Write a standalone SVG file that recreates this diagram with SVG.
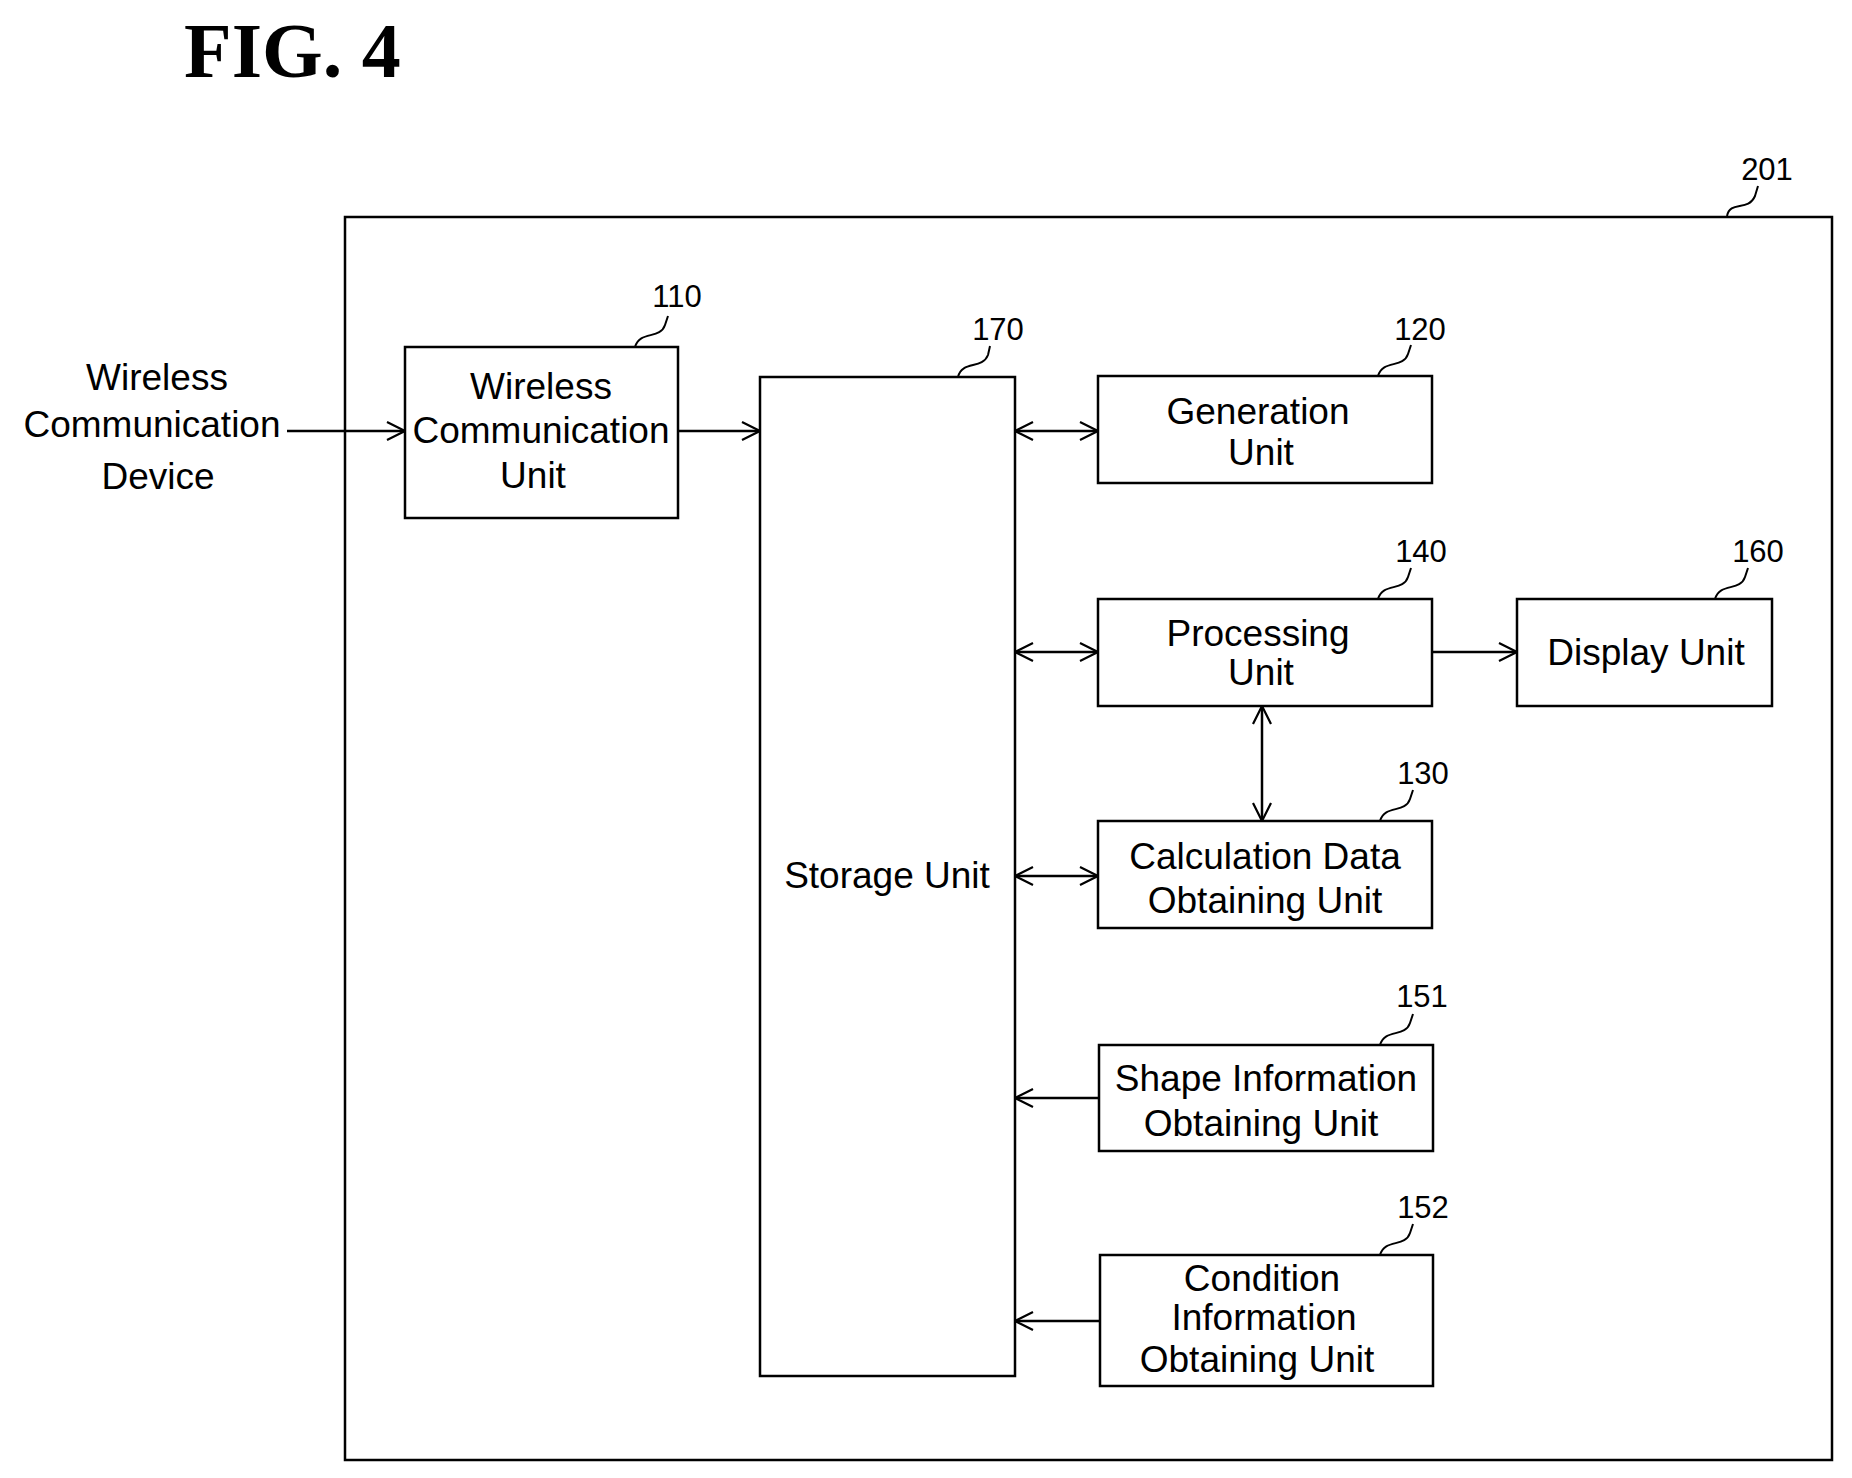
<svg xmlns="http://www.w3.org/2000/svg" width="1852" height="1478" viewBox="0 0 1852 1478">
<style>
.b{fill:#fff;stroke:#000;stroke-width:2.5}
.t{font-family:"Liberation Sans",Arial,sans-serif;font-size:37px;text-anchor:middle;fill:#000}
.n{font-family:"Liberation Sans",Arial,sans-serif;font-size:31px;text-anchor:middle;fill:#000}
.c{fill:none;stroke:#000;stroke-width:2.5}
.l{fill:none;stroke:#000;stroke-width:2}
</style>
<defs>
<marker id="a" viewBox="0 0 20 20" refX="19" refY="10" markerWidth="20" markerHeight="20" markerUnits="userSpaceOnUse" orient="auto-start-reverse">
<path d="M1,1 L19,10 L1,19" fill="none" stroke="#000" stroke-width="2.2"/>
</marker>
</defs>
<rect width="1852" height="1478" fill="#fff"/>
<text x="184" y="77" font-family="Liberation Serif,serif" font-weight="bold" font-size="78">FIG. 4</text>
<g id="n201">
<rect class="b" x="345" y="217" width="1487" height="1243" fill="none"/>
<path class="l" d="M1727,216 C1730,200 1748,212 1755,196 L1758,186"/>
<text class="n" x="1767" y="180">201</text>
</g>
<g id="device">
<text class="t" x="157" y="390">Wireless</text>
<text class="t" x="152" y="437">Communication</text>
<text class="t" x="158" y="489">Device</text>
</g>
<g id="n110">
<rect class="b" x="405" y="347" width="273" height="171"/>
<path class="l" d="M635,347 C640,330 660,340 665,325 L668,316"/>
<text class="n" x="677" y="307">110</text>
<text class="t" x="541" y="399">Wireless</text>
<text class="t" x="541" y="443">Communication</text>
<text class="t" x="533" y="488">Unit</text>
</g>
<g id="n170">
<rect class="b" x="760" y="377" width="255" height="999"/>
<path class="l" d="M958,377 C962,360 982,370 988,355 L990,346"/>
<text class="n" x="998" y="340">170</text>
<text class="t" x="887" y="888">Storage Unit</text>
</g>
<g id="n120">
<rect class="b" x="1098" y="376" width="334" height="107"/>
<path class="l" d="M1378,376 C1383,359 1403,369 1408,354 L1411,345"/>
<text class="n" x="1420" y="340">120</text>
<text class="t" x="1258" y="424">Generation</text>
<text class="t" x="1261" y="465">Unit</text>
</g>
<g id="n140">
<rect class="b" x="1098" y="599" width="334" height="107"/>
<path class="l" d="M1378,599 C1383,582 1403,592 1408,577 L1411,568"/>
<text class="n" x="1421" y="562">140</text>
<text class="t" x="1258" y="646">Processing</text>
<text class="t" x="1261" y="685">Unit</text>
</g>
<g id="n160">
<rect class="b" x="1517" y="599" width="255" height="107"/>
<path class="l" d="M1715,599 C1720,582 1740,592 1745,577 L1748,568"/>
<text class="n" x="1758" y="562">160</text>
<text class="t" x="1646" y="665">Display Unit</text>
</g>
<g id="n130">
<rect class="b" x="1098" y="821" width="334" height="107"/>
<path class="l" d="M1380,821 C1385,804 1405,814 1410,799 L1413,790"/>
<text class="n" x="1423" y="784">130</text>
<text class="t" x="1265" y="869">Calculation Data</text>
<text class="t" x="1265" y="913">Obtaining Unit</text>
</g>
<g id="n151">
<rect class="b" x="1099" y="1045" width="334" height="106"/>
<path class="l" d="M1380,1045 C1385,1028 1405,1038 1410,1023 L1413,1014"/>
<text class="n" x="1422" y="1007">151</text>
<text class="t" x="1266" y="1091">Shape Information</text>
<text class="t" x="1261" y="1136">Obtaining Unit</text>
</g>
<g id="n152">
<rect class="b" x="1100" y="1255" width="333" height="131"/>
<path class="l" d="M1380,1255 C1385,1238 1405,1248 1410,1233 L1413,1224"/>
<text class="n" x="1423" y="1218">152</text>
<text class="t" x="1262" y="1291" font-size="34">Condition</text>
<text class="t" x="1264" y="1330" font-size="34">Information</text>
<text class="t" x="1257" y="1372" font-size="34">Obtaining Unit</text>
</g>
<g id="connectors">
<line class="c" x1="287" y1="431" x2="405" y2="431" marker-end="url(#a)"/>
<line class="c" x1="678" y1="431" x2="760" y2="431" marker-end="url(#a)"/>
<line class="c" x1="1015" y1="431" x2="1098" y2="431" marker-start="url(#a)" marker-end="url(#a)"/>
<line class="c" x1="1015" y1="652" x2="1098" y2="652" marker-start="url(#a)" marker-end="url(#a)"/>
<line class="c" x1="1432" y1="652" x2="1517" y2="652" marker-end="url(#a)"/>
<line class="c" x1="1262" y1="706" x2="1262" y2="821" marker-start="url(#a)" marker-end="url(#a)"/>
<line class="c" x1="1015" y1="876" x2="1098" y2="876" marker-start="url(#a)" marker-end="url(#a)"/>
<line class="c" x1="1099" y1="1098" x2="1015" y2="1098" marker-end="url(#a)"/>
<line class="c" x1="1100" y1="1321" x2="1015" y2="1321" marker-end="url(#a)"/>
</g>
</svg>
